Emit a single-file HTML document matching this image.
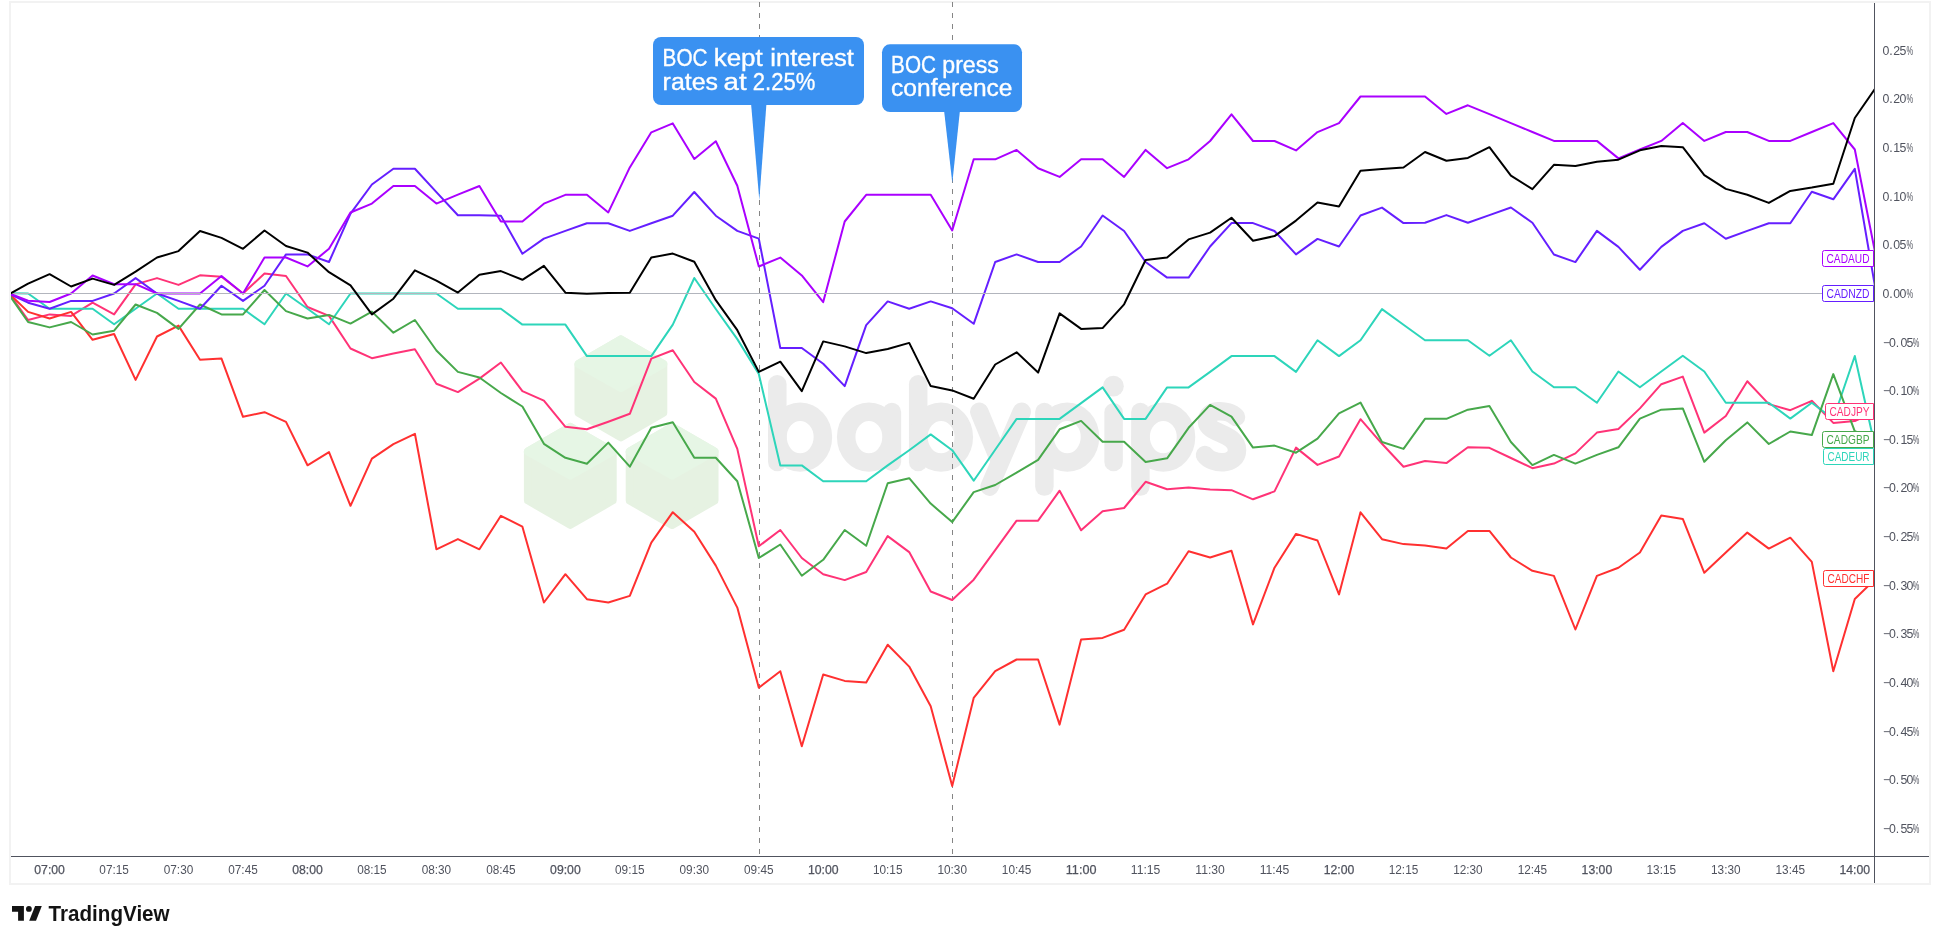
<!DOCTYPE html><html><head><meta charset="utf-8"><style>html,body{margin:0;padding:0;background:#fff;overflow:hidden}svg{display:block}text{font-family:"Liberation Sans",sans-serif}svg{will-change:transform}</style></head><body>
<svg width="1940" height="944" viewBox="0 0 1940 944">
<defs><clipPath id="pane"><rect x="11" y="3" width="1863" height="853"/></clipPath></defs>
<rect x="0" y="0" width="1940" height="944" fill="#fff"/>
<rect x="10" y="2" width="1920" height="882" fill="none" stroke="#f2f2f2" stroke-width="2"/>
<path d="M620.9,339.4 L663.3,363.9 L663.3,412.9 L620.9,437.4 L578.5,412.9 L578.5,363.9 Z" fill="#e6f2e2" stroke="#e6f2e2" stroke-width="8" stroke-linejoin="round"/>
<path d="M620.9,339.4 L663.3,363.9 L620.9,387.9 L578.5,363.9 Z" fill="#e6f6e5" stroke="#e6f6e5" stroke-width="8" stroke-linejoin="round"/>
<path d="M570.3,426.9 L612.7,451.4 L612.7,500.4 L570.3,524.9 L527.9,500.4 L527.9,451.4 Z" fill="#e6f2e2" stroke="#e6f2e2" stroke-width="8" stroke-linejoin="round"/>
<path d="M570.3,426.9 L612.7,451.4 L570.3,475.4 L527.9,451.4 Z" fill="#e6f6e5" stroke="#e6f6e5" stroke-width="8" stroke-linejoin="round"/>
<path d="M672.1,427.0 L714.5,451.5 L714.5,500.5 L672.1,525.0 L629.7,500.5 L629.7,451.5 Z" fill="#e6f2e2" stroke="#e6f2e2" stroke-width="8" stroke-linejoin="round"/>
<path d="M672.1,427.0 L714.5,451.5 L672.1,475.5 L629.7,451.5 Z" fill="#e6f6e5" stroke="#e6f6e5" stroke-width="8" stroke-linejoin="round"/>
<g fill="none" stroke="#ebebeb" stroke-width="18.5" stroke-linecap="round">
<line x1="777.3" y1="384.3" x2="777.3" y2="462.0"/>
<ellipse cx="800.2" cy="437.1" rx="22.7" ry="25.4"/>
<ellipse cx="868.9" cy="437.1" rx="22.7" ry="25.4"/>
<line x1="891.9" y1="412.1" x2="891.9" y2="461.8"/>
<line x1="918.2" y1="384.3" x2="918.2" y2="462.0"/>
<ellipse cx="941.1" cy="437.1" rx="22.7" ry="25.4"/>
<line x1="979.3" y1="411.8" x2="998" y2="457"/>
<line x1="1021.7" y1="411.8" x2="989.6" y2="486.6"/>
<line x1="1044.4" y1="412.0" x2="1044.4" y2="486.6"/>
<ellipse cx="1067.3" cy="437.1" rx="22.7" ry="25.4"/>
<line x1="1113.6" y1="412.3" x2="1113.6" y2="461.9"/>
<circle cx="1113.4" cy="386.2" r="10.4" fill="#ebebeb" stroke="none"/>
<line x1="1140.4" y1="412.0" x2="1140.4" y2="486.6"/>
<ellipse cx="1163.3" cy="437.1" rx="22.7" ry="25.4"/>
<path d="M1236,417 C1228,409 1206,408 1207,422 C1208,434 1237,433 1237,450 C1237,466 1212,465 1205,455"/>
</g>
<line x1="759.5" y1="2" x2="759.5" y2="856" stroke="#858585" stroke-width="1" stroke-dasharray="5 6"/>
<line x1="952.5" y1="2" x2="952.5" y2="856" stroke="#858585" stroke-width="1" stroke-dasharray="5 6"/>
<g clip-path="url(#pane)" fill="none" stroke-width="2" stroke-linejoin="round">
<polyline points="10.6,295.5 28.1,320.0 49.6,314.4 71.1,315.9 92.6,302.7 114.1,314.4 135.6,284.4 157.0,278.1 178.5,284.9 200.0,275.3 221.5,276.8 243.0,293.5 264.5,273.5 286.0,276.0 307.5,307.0 329.0,315.9 350.5,348.5 371.9,358.2 393.4,353.6 414.9,349.3 436.4,383.7 457.9,392.1 479.4,378.6 500.9,362.5 522.4,391.2 543.9,400.6 565.4,426.8 586.9,429.3 608.3,421.7 629.8,413.8 651.3,358.6 672.8,350.3 694.3,382.0 715.8,398.6 737.3,448.9 758.8,546.3 780.3,530.0 801.8,558.0 823.2,574.2 844.7,580.1 866.2,572.0 887.7,536.1 909.2,552.1 930.7,591.5 952.2,600.0 973.7,579.7 995.2,550.2 1016.6,520.7 1038.1,520.7 1059.6,490.7 1081.1,530.3 1102.6,511.3 1124.1,508.0 1145.6,481.8 1167.1,489.2 1188.6,487.6 1210.1,489.4 1231.5,490.2 1253.0,499.3 1274.5,491.4 1296.0,447.6 1317.5,464.9 1339.0,456.5 1360.5,419.2 1382.0,443.8 1403.5,466.7 1425.0,461.0 1446.4,463.1 1467.9,447.3 1489.4,447.8 1510.9,458.0 1532.4,468.2 1553.9,463.6 1575.4,453.4 1596.9,432.6 1618.4,429.0 1639.9,408.4 1661.3,384.2 1682.8,376.6 1704.3,432.6 1725.8,416.0 1747.3,381.2 1768.8,404.1 1790.3,410.2 1811.8,400.8 1833.3,422.9 1854.8,421.1 1876.2,411.0" stroke="#ff3377"/>
<polyline points="10.6,295.0 28.1,311.9 49.6,318.5 71.1,311.9 92.6,339.8 114.1,334.0 135.6,379.9 157.0,336.5 178.5,325.6 200.0,359.8 221.5,358.6 243.0,416.8 264.5,412.2 286.0,421.9 307.5,465.3 329.0,452.1 350.5,505.8 371.9,458.7 393.4,444.2 414.9,433.8 436.4,549.3 457.9,539.1 479.4,549.3 500.9,515.8 522.4,526.7 543.9,602.5 565.4,574.2 586.9,599.2 608.3,602.5 629.8,595.9 651.3,542.7 672.8,512.2 694.3,531.8 715.8,565.6 737.3,607.6 758.8,687.7 780.3,671.2 801.8,746.2 823.2,674.5 844.7,680.9 866.2,682.6 887.7,644.7 909.2,666.6 930.7,706.3 952.2,786.0 973.7,697.9 995.2,671.2 1016.6,659.5 1038.1,659.5 1059.6,724.6 1081.1,639.4 1102.6,637.9 1124.1,629.7 1145.6,594.4 1167.1,583.7 1188.6,551.2 1210.1,557.5 1231.5,550.7 1253.0,624.4 1274.5,567.7 1296.0,533.9 1317.5,540.5 1339.0,594.4 1360.5,512.3 1382.0,539.2 1403.5,544.1 1425.0,545.6 1446.4,548.6 1467.9,530.9 1489.4,530.9 1510.9,557.5 1532.4,570.8 1553.9,575.9 1575.4,629.5 1596.9,575.9 1618.4,567.7 1639.9,552.5 1661.3,515.6 1682.8,518.9 1704.3,572.8 1725.8,552.5 1747.3,532.6 1768.8,548.6 1790.3,537.7 1811.8,561.9 1833.3,671.2 1854.8,599.0 1876.2,578.3" stroke="#ff3030"/>
<polyline points="10.6,293.3 28.1,293.5 49.6,308.8 71.1,308.8 92.6,308.8 114.1,324.3 135.6,308.8 157.0,293.5 178.5,308.8 200.0,308.8 221.5,308.8 243.0,308.8 264.5,324.3 286.0,293.5 307.5,308.8 329.0,324.3 350.5,293.5 371.9,293.5 393.4,293.5 414.9,293.5 436.4,293.5 457.9,308.8 479.4,308.8 500.9,308.8 522.4,324.6 543.9,324.6 565.4,324.6 586.9,356.1 608.3,356.1 629.8,356.1 651.3,356.1 672.8,324.6 694.3,278.0 715.8,309.0 737.3,339.1 758.8,373.9 780.3,465.4 801.8,465.4 823.2,481.2 844.7,481.2 866.2,481.2 887.7,465.4 909.2,450.2 930.7,434.4 952.2,450.2 973.7,480.7 995.2,449.7 1016.6,418.9 1038.1,418.9 1059.6,418.9 1081.1,403.1 1102.6,387.4 1124.1,418.9 1145.6,418.9 1167.1,387.4 1188.6,387.4 1210.1,371.9 1231.5,356.1 1253.0,356.1 1274.5,356.1 1296.0,371.9 1317.5,340.3 1339.0,356.1 1360.5,340.3 1382.0,309.1 1403.5,324.8 1425.0,340.3 1446.4,340.3 1467.9,340.3 1489.4,355.8 1510.9,340.3 1532.4,371.5 1553.9,387.3 1575.4,387.3 1596.9,402.8 1618.4,371.5 1639.9,387.3 1661.3,371.5 1682.8,355.8 1704.3,371.5 1725.8,402.8 1747.3,402.8 1768.8,402.8 1790.3,418.6 1811.8,402.8 1833.3,419.0 1854.8,356.0 1876.2,452.0" stroke="#2dd5ba"/>
<polyline points="10.6,296.8 28.1,322.0 49.6,327.4 71.1,322.0 92.6,334.5 114.1,330.7 135.6,304.5 157.0,312.9 178.5,328.9 200.0,304.5 221.5,314.4 243.0,314.4 264.5,290.0 286.0,311.1 307.5,318.5 329.0,314.9 350.5,323.6 371.9,311.6 393.4,332.7 414.9,320.0 436.4,350.5 457.9,371.9 479.4,377.5 500.9,393.0 522.4,406.5 543.9,443.8 565.4,457.8 586.9,463.7 608.3,442.6 629.8,466.7 651.3,427.8 672.8,422.2 694.3,457.8 715.8,457.8 737.3,481.2 758.8,558.0 780.3,544.5 801.8,575.8 823.2,559.8 844.7,530.0 866.2,545.8 887.7,483.2 909.2,478.2 930.7,503.6 952.2,522.1 973.7,492.1 995.2,485.0 1016.6,472.6 1038.1,459.8 1059.6,429.3 1081.1,420.9 1102.6,441.8 1124.1,441.8 1145.6,461.9 1167.1,458.3 1188.6,427.8 1210.1,404.9 1231.5,416.6 1253.0,447.6 1274.5,445.6 1296.0,452.7 1317.5,438.7 1339.0,413.3 1360.5,402.6 1382.0,442.0 1403.5,448.9 1425.0,418.8 1446.4,418.8 1467.9,409.7 1489.4,406.1 1510.9,442.0 1532.4,465.1 1553.9,454.9 1575.4,463.6 1596.9,454.9 1618.4,447.3 1639.9,418.6 1661.3,409.7 1682.8,408.4 1704.3,461.8 1725.8,440.2 1747.3,422.4 1768.8,444.0 1790.3,431.5 1811.8,435.1 1833.3,374.1 1854.8,431.3 1876.2,439.4" stroke="#47a84b"/>
<polyline points="10.6,294.5 28.1,302.7 49.6,308.8 71.1,300.9 92.6,300.9 114.1,293.5 135.6,278.1 157.0,293.5 178.5,300.9 200.0,308.8 221.5,285.7 243.0,300.9 264.5,285.7 286.0,254.4 307.5,254.4 329.0,262.0 350.5,213.7 371.9,184.5 393.4,168.7 414.9,168.7 436.4,192.1 457.9,215.3 479.4,215.3 500.9,215.7 522.4,253.8 543.9,238.6 565.4,230.9 586.9,223.3 608.3,223.3 629.8,230.9 651.3,223.3 672.8,215.7 694.3,192.0 715.8,215.7 737.3,230.9 758.8,238.6 780.3,348.0 801.8,348.0 823.2,363.7 844.7,386.1 866.2,325.1 887.7,301.4 909.2,308.8 930.7,301.4 952.2,308.3 973.7,323.8 995.2,262.0 1016.6,254.4 1038.1,262.0 1059.6,262.0 1081.1,246.5 1102.6,215.5 1124.1,231.0 1145.6,262.0 1167.1,277.6 1188.6,277.6 1210.1,246.5 1231.5,223.1 1253.0,223.1 1274.5,231.0 1296.0,254.4 1317.5,238.9 1339.0,246.5 1360.5,215.5 1382.0,207.6 1403.5,223.1 1425.0,222.7 1446.4,215.1 1467.9,222.7 1489.4,215.1 1510.9,207.5 1532.4,222.7 1553.9,254.5 1575.4,262.1 1596.9,230.9 1618.4,246.9 1639.9,269.8 1661.3,246.9 1682.8,230.9 1704.3,223.2 1725.8,238.7 1747.3,230.9 1768.8,223.2 1790.3,223.2 1811.8,191.7 1833.3,199.3 1854.8,168.8 1876.2,293.5" stroke="#651fff"/>
<polyline points="10.6,294.0 28.1,300.7 49.6,302.0 71.1,293.5 92.6,275.5 114.1,284.2 135.6,284.2 157.0,293.5 178.5,293.5 200.0,293.5 221.5,276.0 243.0,293.5 264.5,257.5 286.0,257.5 307.5,266.4 329.0,248.8 350.5,212.5 371.9,203.6 393.4,186.0 414.9,186.0 436.4,203.6 457.9,194.7 479.4,186.0 500.9,221.5 522.4,221.5 543.9,203.7 565.4,194.8 586.9,194.8 608.3,212.4 629.8,167.4 651.3,132.3 672.8,123.4 694.3,159.0 715.8,141.2 737.3,185.7 758.8,266.5 780.3,257.6 801.8,275.4 823.2,302.1 844.7,221.5 866.2,194.8 887.7,194.8 909.2,194.8 930.7,194.8 952.2,230.5 973.7,159.3 995.2,159.3 1016.6,149.9 1038.1,168.2 1059.6,176.9 1081.1,159.3 1102.6,159.3 1124.1,176.9 1145.6,149.9 1167.1,168.2 1188.6,159.3 1210.1,141.0 1231.5,114.3 1253.0,141.0 1274.5,141.0 1296.0,150.4 1317.5,132.1 1339.0,123.2 1360.5,96.5 1382.0,96.5 1403.5,96.5 1425.0,96.4 1446.4,113.9 1467.9,105.3 1489.4,114.2 1510.9,123.1 1532.4,132.0 1553.9,140.9 1575.4,140.9 1596.9,140.9 1618.4,158.4 1639.9,149.5 1661.3,140.9 1682.8,123.1 1704.3,140.9 1725.8,132.0 1747.3,132.0 1768.8,140.9 1790.3,140.9 1811.8,132.0 1833.3,123.1 1854.8,149.5 1876.2,258.0" stroke="#aa00ff"/>
</g>
<line x1="11" y1="293.5" x2="1874" y2="293.5" stroke="#b2b5bd" stroke-width="1"/>
<g clip-path="url(#pane)" fill="none" stroke-width="2" stroke-linejoin="round">
<polyline points="10.6,293.3 28.1,283.7 49.6,274.2 71.1,286.5 92.6,278.6 114.1,284.9 135.6,271.7 157.0,257.5 178.5,251.1 200.0,231.0 221.5,237.9 243.0,248.8 264.5,230.5 286.0,246.0 307.5,252.6 329.0,272.2 350.5,285.4 371.9,314.4 393.4,298.7 414.9,270.4 436.4,280.6 457.9,292.6 479.4,274.8 500.9,271.1 522.4,279.8 543.9,265.8 565.4,292.7 586.9,293.7 608.3,293.0 629.8,292.7 651.3,257.6 672.8,253.6 694.3,261.7 715.8,300.2 737.3,330.2 758.8,371.9 780.3,361.7 801.8,391.2 823.2,341.4 844.7,346.4 866.2,353.1 887.7,349.0 909.2,342.9 930.7,386.1 952.2,390.4 973.7,398.8 995.2,364.5 1016.6,352.3 1038.1,372.6 1059.6,313.4 1081.1,328.9 1102.6,328.1 1124.1,304.3 1145.6,260.0 1167.1,257.5 1188.6,239.4 1210.1,232.6 1231.5,217.8 1253.0,240.7 1274.5,236.1 1296.0,220.6 1317.5,202.6 1339.0,206.4 1360.5,170.8 1382.0,169.0 1403.5,167.5 1425.0,152.0 1446.4,160.7 1467.9,157.9 1489.4,147.2 1510.9,175.7 1532.4,189.2 1553.9,164.8 1575.4,166.0 1596.9,161.7 1618.4,159.7 1639.9,150.3 1661.3,145.9 1682.8,147.2 1704.3,175.2 1725.8,188.9 1747.3,194.8 1768.8,202.9 1790.3,190.9 1811.8,187.6 1833.3,183.8 1854.8,118.0 1876.2,87.0" stroke="#000000"/>
</g>
<line x1="1874.5" y1="3" x2="1874.5" y2="883" stroke="#50535e" stroke-width="1"/>
<line x1="11" y1="856.5" x2="1929" y2="856.5" stroke="#50535e" stroke-width="1"/>
<text x="1882.4 1889.3 1893.3 1899.5" y="54.8" font-size="12.3" fill="#50535e">0.25</text>
<text x="1906.6" y="54.8" font-size="12.3" fill="#50535e" textLength="6.6" lengthAdjust="spacingAndGlyphs">%</text>
<text x="1882.4 1889.3 1893.3 1899.5" y="103.4" font-size="12.3" fill="#50535e">0.20</text>
<text x="1906.6" y="103.4" font-size="12.3" fill="#50535e" textLength="6.6" lengthAdjust="spacingAndGlyphs">%</text>
<text x="1882.4 1889.3 1893.3 1899.5" y="152.0" font-size="12.3" fill="#50535e">0.15</text>
<text x="1906.6" y="152.0" font-size="12.3" fill="#50535e" textLength="6.6" lengthAdjust="spacingAndGlyphs">%</text>
<text x="1882.4 1889.3 1893.3 1899.5" y="200.7" font-size="12.3" fill="#50535e">0.10</text>
<text x="1906.6" y="200.7" font-size="12.3" fill="#50535e" textLength="6.6" lengthAdjust="spacingAndGlyphs">%</text>
<text x="1882.4 1889.3 1893.3 1899.5" y="249.3" font-size="12.3" fill="#50535e">0.05</text>
<text x="1906.6" y="249.3" font-size="12.3" fill="#50535e" textLength="6.6" lengthAdjust="spacingAndGlyphs">%</text>
<text x="1882.4 1889.3 1893.3 1899.5" y="297.9" font-size="12.3" fill="#50535e">0.00</text>
<text x="1906.6" y="297.9" font-size="12.3" fill="#50535e" textLength="6.6" lengthAdjust="spacingAndGlyphs">%</text>
<text x="1882.9 1889.0 1895.7 1900.4 1906.6" y="346.5" font-size="12.3" fill="#50535e">−0.05</text>
<text x="1912.8" y="346.5" font-size="12.3" fill="#50535e" textLength="6.6" lengthAdjust="spacingAndGlyphs">%</text>
<text x="1882.9 1889.0 1895.7 1900.4 1906.6" y="395.1" font-size="12.3" fill="#50535e">−0.10</text>
<text x="1912.8" y="395.1" font-size="12.3" fill="#50535e" textLength="6.6" lengthAdjust="spacingAndGlyphs">%</text>
<text x="1882.9 1889.0 1895.7 1900.4 1906.6" y="443.8" font-size="12.3" fill="#50535e">−0.15</text>
<text x="1912.8" y="443.8" font-size="12.3" fill="#50535e" textLength="6.6" lengthAdjust="spacingAndGlyphs">%</text>
<text x="1882.9 1889.0 1895.7 1900.4 1906.6" y="492.4" font-size="12.3" fill="#50535e">−0.20</text>
<text x="1912.8" y="492.4" font-size="12.3" fill="#50535e" textLength="6.6" lengthAdjust="spacingAndGlyphs">%</text>
<text x="1882.9 1889.0 1895.7 1900.4 1906.6" y="541.0" font-size="12.3" fill="#50535e">−0.25</text>
<text x="1912.8" y="541.0" font-size="12.3" fill="#50535e" textLength="6.6" lengthAdjust="spacingAndGlyphs">%</text>
<text x="1882.9 1889.0 1895.7 1900.4 1906.6" y="589.6" font-size="12.3" fill="#50535e">−0.30</text>
<text x="1912.8" y="589.6" font-size="12.3" fill="#50535e" textLength="6.6" lengthAdjust="spacingAndGlyphs">%</text>
<text x="1882.9 1889.0 1895.7 1900.4 1906.6" y="638.3" font-size="12.3" fill="#50535e">−0.35</text>
<text x="1912.8" y="638.3" font-size="12.3" fill="#50535e" textLength="6.6" lengthAdjust="spacingAndGlyphs">%</text>
<text x="1882.9 1889.0 1895.7 1900.4 1906.6" y="686.9" font-size="12.3" fill="#50535e">−0.40</text>
<text x="1912.8" y="686.9" font-size="12.3" fill="#50535e" textLength="6.6" lengthAdjust="spacingAndGlyphs">%</text>
<text x="1882.9 1889.0 1895.7 1900.4 1906.6" y="735.5" font-size="12.3" fill="#50535e">−0.45</text>
<text x="1912.8" y="735.5" font-size="12.3" fill="#50535e" textLength="6.6" lengthAdjust="spacingAndGlyphs">%</text>
<text x="1882.9 1889.0 1895.7 1900.4 1906.6" y="784.1" font-size="12.3" fill="#50535e">−0.50</text>
<text x="1912.8" y="784.1" font-size="12.3" fill="#50535e" textLength="6.6" lengthAdjust="spacingAndGlyphs">%</text>
<text x="1882.9 1889.0 1895.7 1900.4 1906.6" y="832.8" font-size="12.3" fill="#50535e">−0.55</text>
<text x="1912.8" y="832.8" font-size="12.3" fill="#50535e" textLength="6.6" lengthAdjust="spacingAndGlyphs">%</text>
<text x="49.6" y="874" font-size="12.5" fill="#50535e" stroke="#50535e" stroke-width="0.25" text-anchor="middle" textLength="30.6" lengthAdjust="spacingAndGlyphs">07:00</text>
<text x="114.1" y="874" font-size="12.5" fill="#50535e" text-anchor="middle" textLength="29.5" lengthAdjust="spacingAndGlyphs">07:15</text>
<text x="178.5" y="874" font-size="12.5" fill="#50535e" text-anchor="middle" textLength="29.5" lengthAdjust="spacingAndGlyphs">07:30</text>
<text x="243.0" y="874" font-size="12.5" fill="#50535e" text-anchor="middle" textLength="29.5" lengthAdjust="spacingAndGlyphs">07:45</text>
<text x="307.5" y="874" font-size="12.5" fill="#50535e" stroke="#50535e" stroke-width="0.25" text-anchor="middle" textLength="30.6" lengthAdjust="spacingAndGlyphs">08:00</text>
<text x="371.9" y="874" font-size="12.5" fill="#50535e" text-anchor="middle" textLength="29.5" lengthAdjust="spacingAndGlyphs">08:15</text>
<text x="436.4" y="874" font-size="12.5" fill="#50535e" text-anchor="middle" textLength="29.5" lengthAdjust="spacingAndGlyphs">08:30</text>
<text x="500.9" y="874" font-size="12.5" fill="#50535e" text-anchor="middle" textLength="29.5" lengthAdjust="spacingAndGlyphs">08:45</text>
<text x="565.4" y="874" font-size="12.5" fill="#50535e" stroke="#50535e" stroke-width="0.25" text-anchor="middle" textLength="30.6" lengthAdjust="spacingAndGlyphs">09:00</text>
<text x="629.8" y="874" font-size="12.5" fill="#50535e" text-anchor="middle" textLength="29.5" lengthAdjust="spacingAndGlyphs">09:15</text>
<text x="694.3" y="874" font-size="12.5" fill="#50535e" text-anchor="middle" textLength="29.5" lengthAdjust="spacingAndGlyphs">09:30</text>
<text x="758.8" y="874" font-size="12.5" fill="#50535e" text-anchor="middle" textLength="29.5" lengthAdjust="spacingAndGlyphs">09:45</text>
<text x="823.2" y="874" font-size="12.5" fill="#50535e" stroke="#50535e" stroke-width="0.25" text-anchor="middle" textLength="30.6" lengthAdjust="spacingAndGlyphs">10:00</text>
<text x="887.7" y="874" font-size="12.5" fill="#50535e" text-anchor="middle" textLength="29.5" lengthAdjust="spacingAndGlyphs">10:15</text>
<text x="952.2" y="874" font-size="12.5" fill="#50535e" text-anchor="middle" textLength="29.5" lengthAdjust="spacingAndGlyphs">10:30</text>
<text x="1016.6" y="874" font-size="12.5" fill="#50535e" text-anchor="middle" textLength="29.5" lengthAdjust="spacingAndGlyphs">10:45</text>
<text x="1081.1" y="874" font-size="12.5" fill="#50535e" stroke="#50535e" stroke-width="0.25" text-anchor="middle" textLength="30.6" lengthAdjust="spacingAndGlyphs">11:00</text>
<text x="1145.6" y="874" font-size="12.5" fill="#50535e" text-anchor="middle" textLength="29.5" lengthAdjust="spacingAndGlyphs">11:15</text>
<text x="1210.1" y="874" font-size="12.5" fill="#50535e" text-anchor="middle" textLength="29.5" lengthAdjust="spacingAndGlyphs">11:30</text>
<text x="1274.5" y="874" font-size="12.5" fill="#50535e" text-anchor="middle" textLength="29.5" lengthAdjust="spacingAndGlyphs">11:45</text>
<text x="1339.0" y="874" font-size="12.5" fill="#50535e" stroke="#50535e" stroke-width="0.25" text-anchor="middle" textLength="30.6" lengthAdjust="spacingAndGlyphs">12:00</text>
<text x="1403.5" y="874" font-size="12.5" fill="#50535e" text-anchor="middle" textLength="29.5" lengthAdjust="spacingAndGlyphs">12:15</text>
<text x="1467.9" y="874" font-size="12.5" fill="#50535e" text-anchor="middle" textLength="29.5" lengthAdjust="spacingAndGlyphs">12:30</text>
<text x="1532.4" y="874" font-size="12.5" fill="#50535e" text-anchor="middle" textLength="29.5" lengthAdjust="spacingAndGlyphs">12:45</text>
<text x="1596.9" y="874" font-size="12.5" fill="#50535e" stroke="#50535e" stroke-width="0.25" text-anchor="middle" textLength="30.6" lengthAdjust="spacingAndGlyphs">13:00</text>
<text x="1661.3" y="874" font-size="12.5" fill="#50535e" text-anchor="middle" textLength="29.5" lengthAdjust="spacingAndGlyphs">13:15</text>
<text x="1725.8" y="874" font-size="12.5" fill="#50535e" text-anchor="middle" textLength="29.5" lengthAdjust="spacingAndGlyphs">13:30</text>
<text x="1790.3" y="874" font-size="12.5" fill="#50535e" text-anchor="middle" textLength="29.5" lengthAdjust="spacingAndGlyphs">13:45</text>
<text x="1854.8" y="874" font-size="12.5" fill="#50535e" stroke="#50535e" stroke-width="0.25" text-anchor="middle" textLength="30.6" lengthAdjust="spacingAndGlyphs">14:00</text>
<path d="M1873.5,250.5 H1873.5 V266.5 H1824.5 A2,2 0 0 1 1822.5,264.5 V252.5 A2,2 0 0 1 1824.5,250.5 Z" fill="#fff" stroke="#aa00ff" stroke-width="1"/>
<text x="1826.5" y="263.1" font-size="12.6" fill="#aa00ff" textLength="43.0" lengthAdjust="spacingAndGlyphs">CADAUD</text>
<path d="M1873.5,285.5 H1873.5 V301.5 H1824.5 A2,2 0 0 1 1822.5,299.5 V287.5 A2,2 0 0 1 1824.5,285.5 Z" fill="#fff" stroke="#651fff" stroke-width="1"/>
<text x="1826.5" y="298.1" font-size="12.6" fill="#651fff" textLength="43.0" lengthAdjust="spacingAndGlyphs">CADNZD</text>
<path d="M1873.5,403.5 H1873.5 V419.5 H1827.5 A2,2 0 0 1 1825.5,417.5 V405.5 A2,2 0 0 1 1827.5,403.5 Z" fill="#fff" stroke="#ff3377" stroke-width="1"/>
<text x="1829.5" y="416.1" font-size="12.6" fill="#ff3377" textLength="40.0" lengthAdjust="spacingAndGlyphs">CADJPY</text>
<path d="M1873.5,431.5 H1873.5 V447.5 H1824.5 A2,2 0 0 1 1822.5,445.5 V433.5 A2,2 0 0 1 1824.5,431.5 Z" fill="#fff" stroke="#47a84b" stroke-width="1"/>
<text x="1826.5" y="444.1" font-size="12.6" fill="#47a84b" textLength="43.0" lengthAdjust="spacingAndGlyphs">CADGBP</text>
<path d="M1873.5,448.5 H1873.5 V464.5 H1825.5 A2,2 0 0 1 1823.5,462.5 V450.5 A2,2 0 0 1 1825.5,448.5 Z" fill="#fff" stroke="#2dd5ba" stroke-width="1"/>
<text x="1827.5" y="461.1" font-size="12.6" fill="#2dd5ba" textLength="42.0" lengthAdjust="spacingAndGlyphs">CADEUR</text>
<path d="M1873.5,570.5 H1873.5 V586.5 H1825.5 A2,2 0 0 1 1823.5,584.5 V572.5 A2,2 0 0 1 1825.5,570.5 Z" fill="#fff" stroke="#ff3030" stroke-width="1"/>
<text x="1827.5" y="583.1" font-size="12.6" fill="#ff3030" textLength="42.0" lengthAdjust="spacingAndGlyphs">CADCHF</text>
<path d="M751.0,103.0 L759.3,200.0 L766.5,103.0 Z" fill="#3a91f1"/>
<rect x="653.0" y="37.0" width="211.0" height="68.0" rx="8" fill="#3a91f1"/>
<text x="662.6" y="65.8" font-size="23" fill="#fff" stroke="#fff" stroke-width="0.35" textLength="44.9" lengthAdjust="spacingAndGlyphs">BOC</text>
<text x="713.7" y="65.8" font-size="23" fill="#fff" stroke="#fff" stroke-width="0.35" textLength="49.1" lengthAdjust="spacingAndGlyphs">kept</text>
<text x="770.3" y="65.8" font-size="23" fill="#fff" stroke="#fff" stroke-width="0.35" textLength="83.6" lengthAdjust="spacingAndGlyphs">interest</text>
<text x="662.6" y="90.0" font-size="23" fill="#fff" stroke="#fff" stroke-width="0.35" textLength="55.4" lengthAdjust="spacingAndGlyphs">rates</text>
<text x="723.6" y="90.0" font-size="23" fill="#fff" stroke="#fff" stroke-width="0.35" textLength="23.0" lengthAdjust="spacingAndGlyphs">at</text>
<text x="752.8" y="90.0" font-size="23" fill="#fff" stroke="#fff" stroke-width="0.35" textLength="62.4" lengthAdjust="spacingAndGlyphs">2.25%</text>
<path d="M944.0,110.0 L952.3,183.0 L960.0,110.0 Z" fill="#3a91f1"/>
<rect x="882.0" y="44.3" width="140.0" height="67.7" rx="8" fill="#3a91f1"/>
<text x="891.1" y="72.5" font-size="23" fill="#fff" stroke="#fff" stroke-width="0.35" textLength="44.8" lengthAdjust="spacingAndGlyphs">BOC</text>
<text x="942.3" y="72.5" font-size="23" fill="#fff" stroke="#fff" stroke-width="0.35" textLength="56.6" lengthAdjust="spacingAndGlyphs">press</text>
<text x="891.1" y="96.4" font-size="23" fill="#fff" stroke="#fff" stroke-width="0.35" textLength="121.4" lengthAdjust="spacingAndGlyphs">conference</text>
<g fill="#131313"><path d="M12,906.1 H23.9 V920.8 H18.1 V911.7 H12 Z"/><circle cx="28.9" cy="908.9" r="2.9"/><path d="M35.1,906.1 H41.8 L36,920.8 H29.2 Z"/></g>
<text x="48.6" y="920.8" font-size="21.4" font-weight="bold" fill="#131313" textLength="121" lengthAdjust="spacingAndGlyphs">TradingView</text>
</svg></body></html>
